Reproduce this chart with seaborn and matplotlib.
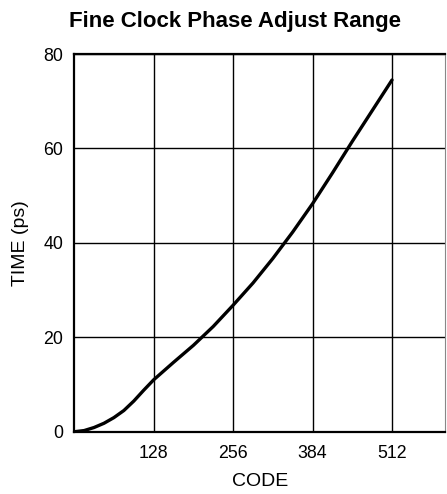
import numpy as np
import pandas as pd
import matplotlib
matplotlib.use("Agg")
import matplotlib.pyplot as plt
import seaborn as sns

# values
codes = [0, 16, 32, 48, 64, 80, 96, 112, 128, 160, 192, 224, 256, 288, 320, 352, 384, 416, 448, 480, 512]
time_ps = [0, 0.25, 0.9, 1.8, 3.0, 4.5, 6.5, 8.8, 11.0, 14.7, 18.3, 22.3, 26.8, 31.5, 36.7, 42.3,
           48.3, 54.8, 61.5, 68.0, 74.5]
x_ticks = [128, 256, 384, 512]
y_ticks = [0, 20, 40, 60, 80]

sns.set_style("white")
plt.rcParams["font.family"] = ["Liberation Sans", "DejaVu Sans"]
plt.rcParams["text.color"] = "black"
plt.rcParams["axes.labelcolor"] = "black"
plt.rcParams["xtick.color"] = "black"
plt.rcParams["ytick.color"] = "black"

df = pd.DataFrame({"code": codes, "time": time_ps})

fig = plt.figure(figsize=(4.47, 4.94), dpi=100)
ax = fig.add_axes([0.166, 0.126, 0.8304, 0.7646])

sns.lineplot(data=df, x="code", y="time", ax=ax, color="black", linewidth=2.4)

ax.set_xlim(0, 598)
ax.set_ylim(0, 80)
ax.set_xticks(x_ticks)
ax.set_yticks(y_ticks)
ax.grid(True, color="black", linewidth=1.0)
ax.set_axisbelow(True)
ax.tick_params(length=0, labelsize=12.8)
ax.tick_params(axis="x", pad=9.5)
ax.tick_params(axis="y", pad=8)

for s in ["left", "top", "bottom"]:
    ax.spines[s].set_color("black")
    ax.spines[s].set_linewidth(1.6)
ax.spines["right"].set_color("#888888")
ax.spines["right"].set_linewidth(0.8)

ax.set_xlabel("CODE", fontsize=14)
ax.set_ylabel("TIME (ps)", fontsize=14)
ax.xaxis.set_label_coords(0.5, -0.109)
ax.yaxis.set_label_coords(-0.122, 0.5)

fig.text(0.526, 0.956, "Fine Clock Phase Adjust Range", ha="center", va="center",
         fontsize=16, fontweight="bold")

fig.savefig("out.png", dpi=100)
